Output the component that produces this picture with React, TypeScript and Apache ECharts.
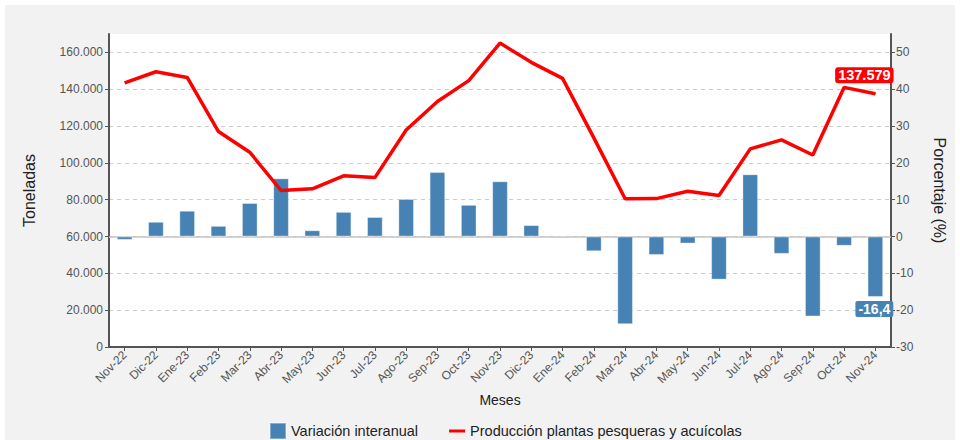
import React, { useEffect, useRef } from "react";
import * as echarts from "echarts";

const categories = [
  "Nov-22", "Dic-22", "Ene-23", "Feb-23", "Mar-23", "Abr-23", "May-23", "Jun-23", "Jul-23",
  "Ago-23", "Sep-23", "Oct-23", "Nov-23", "Dic-23", "Ene-24", "Feb-24", "Mar-24", "Abr-24",
  "May-24", "Jun-24", "Jul-24", "Ago-24", "Sep-24", "Oct-24", "Nov-24",
];

const production = [
  143400, 149500, 146400, 117000, 105800, 85000, 85900, 93000, 92000, 117900, 133300, 144700,
  165100, 154600, 145900, 113600, 80500, 80600, 84600, 82300, 107600, 112500, 104300, 141000,
  137579,
];

const variation = [
  -0.9, 4.0, 7.0, 2.9, 9.1, 15.8, 1.7, 6.7, 5.3, 10.2, 17.5, 8.6, 15.0, 3.1, -0.4, -4.0, -23.8,
  -5.0, -1.9, -11.7, 16.9, -4.7, -21.7, -2.5, -16.4,
];

const barName = "Variación interanual";
const lineName = "Producción plantas pesqueras y acuícolas";
const leftAxisName = "Toneladas";
const rightAxisName = "Porcentaje (%)";
const xAxisName = "Meses";

const FONT = "'Liberation Sans', Arial, Helvetica, sans-serif";

function fmtThousands(v: number): string {
  return Math.round(v).toString().replace(/\B(?=(\d{3})+(?!\d))/g, ".");
}
function fmtDecimal(v: number): string {
  return v.toFixed(1).replace(".", ",");
}

export default function App() {
  const ref = useRef<HTMLDivElement>(null);

  useEffect(() => {
    if (!ref.current) return;
    const chart = echarts.init(ref.current, undefined, { renderer: "svg" });
    const last = production.length - 1;

    const barData = variation.map((v, i) =>
      i === last
        ? {
            value: v,
            label: {
              show: true,
              position: "bottom",
              distance: 4,
              offset: [-1, 0],
              formatter: (p: any) => fmtDecimal(p.value),
              backgroundColor: "#4682b4",
              color: "#fff",
              fontWeight: "bold",
              fontSize: 14,
              fontFamily: FONT,
              padding: [1, 3, 1, 3],
              lineHeight: 14,
              borderRadius: 2,
            },
          }
        : v
    );

    const lastLabelData = production.map((v, i) => (i === last ? v : "-"));

    chart.setOption({
      animation: false,
      backgroundColor: "#f2f2f2",
      textStyle: { fontFamily: FONT },
      grid: {
        left: 104,
        right: 59,
        top: 29,
        bottom: 93,
        show: true,
        backgroundColor: "#ffffff",
        borderWidth: 0,
      },
      legend: {
        top: 412,
        left: 259,
        itemWidth: 16,
        itemHeight: 16,
        itemGap: 31,
        textStyle: { fontSize: 14.5, color: "#222", fontFamily: FONT },
        data: [
          { name: barName, icon: "rect" },
          {
            name: lineName,
            icon: "path://M0,0 L16,0 L16,3 L0,3 Z",
            itemStyle: { color: "#ff0000" },
          },
        ],
      },
      xAxis: {
        type: "category",
        data: categories,
        name: xAxisName,
        nameLocation: "middle",
        nameGap: 40,
        nameTextStyle: { fontSize: 14, color: "#222" },
        axisLine: { show: true, lineStyle: { color: "#555", width: 2 } },
        axisTick: { show: true, alignWithLabel: true, length: 4, lineStyle: { color: "#555" } },
        axisLabel: { rotate: 45, fontSize: 12, color: "#555", margin: 6, interval: 0 },
        splitLine: { show: false },
      },
      yAxis: [
        {
          type: "value",
          min: 0,
          max: 170000,
          interval: 20000,
          position: "left",
          name: leftAxisName,
          nameLocation: "middle",
          nameGap: 72,
          nameTextStyle: { fontSize: 16, color: "#222" },
          axisLine: { show: true, lineStyle: { color: "#555", width: 2 } },
          axisTick: { show: true, length: 4, lineStyle: { color: "#555" } },
          axisLabel: {
            fontSize: 12,
            color: "#555",
            margin: 6,
            showMaxLabel: false,
            formatter: (v: number) => fmtThousands(v),
          },
          splitLine: {
            show: true,
            showMaxLine: false,
            showMinLine: false,
            lineStyle: { color: "#cccccc", type: [4, 4], width: 1 },
          },
        },
        {
          type: "value",
          min: -30,
          max: 55,
          interval: 10,
          position: "right",
          name: rightAxisName,
          nameLocation: "middle",
          nameRotate: -90,
          nameGap: 40,
          nameTextStyle: { fontSize: 16, color: "#222" },
          axisLine: { show: true, lineStyle: { color: "#555", width: 2 } },
          axisTick: { show: true, length: 4, lineStyle: { color: "#555" } },
          axisLabel: { fontSize: 12, color: "#555", margin: 5, showMaxLabel: false },
          splitLine: { show: false },
        },
      ],
      series: [
        {
          name: barName,
          type: "bar",
          yAxisIndex: 1,
          data: barData,
          barWidth: "50%",
          itemStyle: { color: "#4682b4", borderColor: "rgba(255,255,255,0.35)", borderWidth: 1 },
          markLine: {
            silent: true,
            symbol: "none",
            label: { show: false },
            lineStyle: { color: "#c4c4c4", type: "solid", width: 1.5 },
            data: [{ yAxis: 0 }],
            z: 1,
          },
          z: 2,
        },
        {
          name: lineName,
          type: "line",
          yAxisIndex: 0,
          data: production,
          symbol: "none",
          lineStyle: { color: "#ff0000", width: 3.5 },
          itemStyle: { color: "#ff0000" },
          z: 3,
        },
        {
          name: "label-ultimo",
          type: "scatter",
          yAxisIndex: 0,
          data: lastLabelData,
          symbolSize: 1,
          itemStyle: { color: "#ff0000", opacity: 1 },
          silent: true,
          z: 4,
          label: {
            show: true,
            position: "top",
            distance: 10,
            offset: [-11, 0],
            formatter: (p: any) => fmtThousands(p.value),
            backgroundColor: "#ff0000",
            color: "#fff",
            fontWeight: "bold",
            fontSize: 14.5,
            fontFamily: FONT,
            padding: [1, 3, 1, 3],
            lineHeight: 14,
            borderRadius: 3,
            opacity: 1,
          },
        },
      ],
    });

    return () => chart.dispose();
  }, []);

  return (
    <div
      ref={ref}
      style={{ position: "absolute", left: 5, top: 5, width: 950, height: 435 }}
    />
  );
}
